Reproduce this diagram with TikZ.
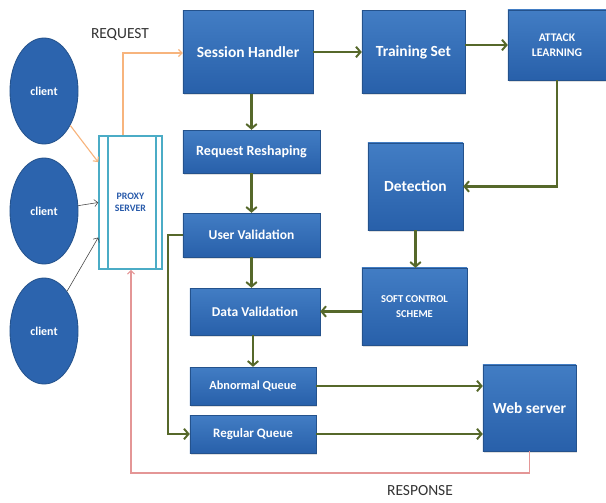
\documentclass[tikz,border=0pt]{standalone}
\usepackage{fontspec}
\setmainfont{Carlito}
\usepackage{tikz}
\usetikzlibrary{positioning}
\usetikzlibrary{shapes.geometric}
\usetikzlibrary{arrows.meta}
\usetikzlibrary{shadows}
\usetikzlibrary{calc}

\definecolor{boxtop}{RGB}{66,125,196}
\definecolor{boxbot}{RGB}{40,96,170}
\definecolor{boxline}{RGB}{36,82,140}
\definecolor{linkgreen}{RGB}{86,104,42}
\definecolor{reqorange}{RGB}{247,180,125}
\definecolor{resppink}{RGB}{228,150,150}
\definecolor{proxycyan}{RGB}{75,172,198}
\definecolor{proxytext}{RGB}{40,90,170}

\begin{document}
\begin{tikzpicture}[x=0.025cm,y=-0.025cm,
		blk/.style = {draw = boxline, line width = 0.3pt, rectangle, top color = boxtop, bottom color = boxbot,
			drop shadow = {opacity = 0.25, shadow xshift = 1pt, shadow yshift = -1.2pt},
			text = white, font = \bfseries, align = center, inner sep = 1pt},
		cli/.style = {draw = boxline, line width = 0.6pt, ellipse, fill = boxbot!85!boxtop,
			minimum width = 1.7cm, minimum height = 2.65cm, text = white, font = \bfseries\fontsize{8.5}{10}\selectfont},
		grn/.style = {draw = linkgreen, line width = 1.6pt, -{Straight Barb[length = 3.2pt, width = 7.5pt, line width = 1.4pt]}},
		req/.style = {draw = reqorange, line width = 0.8pt, -{Straight Barb[length = 2.5pt, width = 5pt]}},
		resp/.style = {draw = resppink, line width = 0.8pt, -{Straight Barb[length = 2.5pt, width = 5pt]}},
		thin/.style = {draw = black!75, line width = 0.4pt, -{Straight Barb[length = 2.5pt, width = 5pt]}}]
		\useasboundingbox (0,0) rectangle (606,502);
		% clients and proxy
		\node[cli] at (44,91) (c1) {client};
		\node[cli] at (44,211) (c2) {client};
		\node[cli] at (44,331) (c3) {client};
		\node[draw = proxycyan, line width = 1.1pt, rectangle, minimum width = 1.575cm, minimum height = 3.325cm,
			text = proxytext, font = \bfseries\fontsize{7}{8.5}\selectfont, align = center] at (130.5,202.5) (px)
		{PROXY\\SERVER};
		\draw[proxycyan, line width = 1.1pt] ($(px.north west)+(10,0)$) -- ($(px.south west)+(10,0)$);
		\draw[proxycyan, line width = 1.1pt] ($(px.north east)+(-7,0)$) -- ($(px.south east)+(-7,0)$);
		% boxes
		\node[blk, minimum width = 3.25cm, minimum height = 2.075cm, font = \bfseries\fontsize{11}{13}\selectfont] at (248,52) (sh) {Session Handler};
		\node[blk, minimum width = 2.575cm, minimum height = 2.075cm, font = \bfseries\fontsize{11}{13}\selectfont] at (413.5,52) (ts) {Training Set};
		\node[blk, minimum width = 2.45cm, minimum height = 1.75cm, font = \bfseries\fontsize{8.3}{11}\selectfont] at (557,45) (al) {ATTACK\\LEARNING};
		\node[blk, minimum width = 3.425cm, minimum height = 1.075cm, font = \bfseries\fontsize{10}{12}\selectfont] at (251.5,151.5) (rr) {Request Reshaping};
		\node[blk, minimum width = 3.425cm, minimum height = 1.1cm, font = \bfseries\fontsize{9.6}{11}\selectfont] at (251.5,235) (uv) {User Validation};
		\node[blk, minimum width = 3.25cm, minimum height = 1.175cm, font = \bfseries\fontsize{9.6}{11}\selectfont] at (255,311.5) (dv) {Data Validation};
		\node[blk, minimum width = 3.15cm, minimum height = 0.95cm, font = \bfseries\fontsize{8.7}{10}\selectfont] at (253,386) (aq) {Abnormal Queue};
		\node[blk, minimum width = 3.15cm, minimum height = 0.95cm, font = \bfseries\fontsize{9.2}{10}\selectfont] at (253,434) (rq) {Regular Queue};
		\node[blk, minimum width = 2.375cm, minimum height = 2.175cm, font = \bfseries\fontsize{11}{13}\selectfont] at (415.5,186.5) (det) {Detection};
		\node[blk, minimum width = 2.625cm, minimum height = 1.925cm, font = \bfseries\fontsize{7.5}{11}\selectfont] at (414.5,306.5) (scs) {SOFT CONTROL\\SCHEME};
		\node[blk, minimum width = 2.325cm, minimum height = 2.15cm, font = \bfseries\fontsize{11}{13}\selectfont] at (529.5,408) (ws) {Web server};
		% labels
		\node[text = black!80, font = \fontsize{11}{13}\selectfont] at (120,34) (rql) {REQUEST};
		\node[text = black!80, font = \fontsize{11}{13}\selectfont] at (420,491) (rsl) {RESPONSE};
		\coordinate (rt) at (123,53);
		\coordinate (rb) at (131,473);
		\coordinate (bend) at (168,235);
		% links
		\draw[req] (c1) -- ($(px.north west)!0.2!(px.south west)$);
		\draw[thin] (c2) -- ($(px.north west)!0.5!(px.south west)$);
		\draw[thin] (c3) -- ($(px.north west)!0.76!(px.south west)$);
		\draw[req] (px.north -| rt) -- (rt) -- (sh.west |- rt);
		\draw[grn] (sh) -- (ts);
		\draw[grn] (ts.east |- al.west) -- (al.west);
		\draw[grn] (al.south) |- (det.east);
		\draw[grn] (det.south) -- (det.south |- scs.north);
		\draw[grn] (scs.west |- dv.east) -- (dv.east);
		\draw[grn] (rr.north |- sh.south) -- (rr.north);
		\draw[grn] (rr.south) -- (uv.north);
		\draw[grn] (uv.south) -- (uv.south |- dv.north);
		\draw[grn] (aq.north |- dv.south) -- (aq.north);
		\draw[grn] (uv.west) -- (bend) |- (rq.west);
		\draw[grn] (aq.east) -- (aq.east -| ws.west);
		\draw[grn] (rq.east) -- (rq.east -| ws.west);
		\draw[resp] (ws.south) |- (rb) -- (rb |- px.south);
\end{tikzpicture}
\end{document}
